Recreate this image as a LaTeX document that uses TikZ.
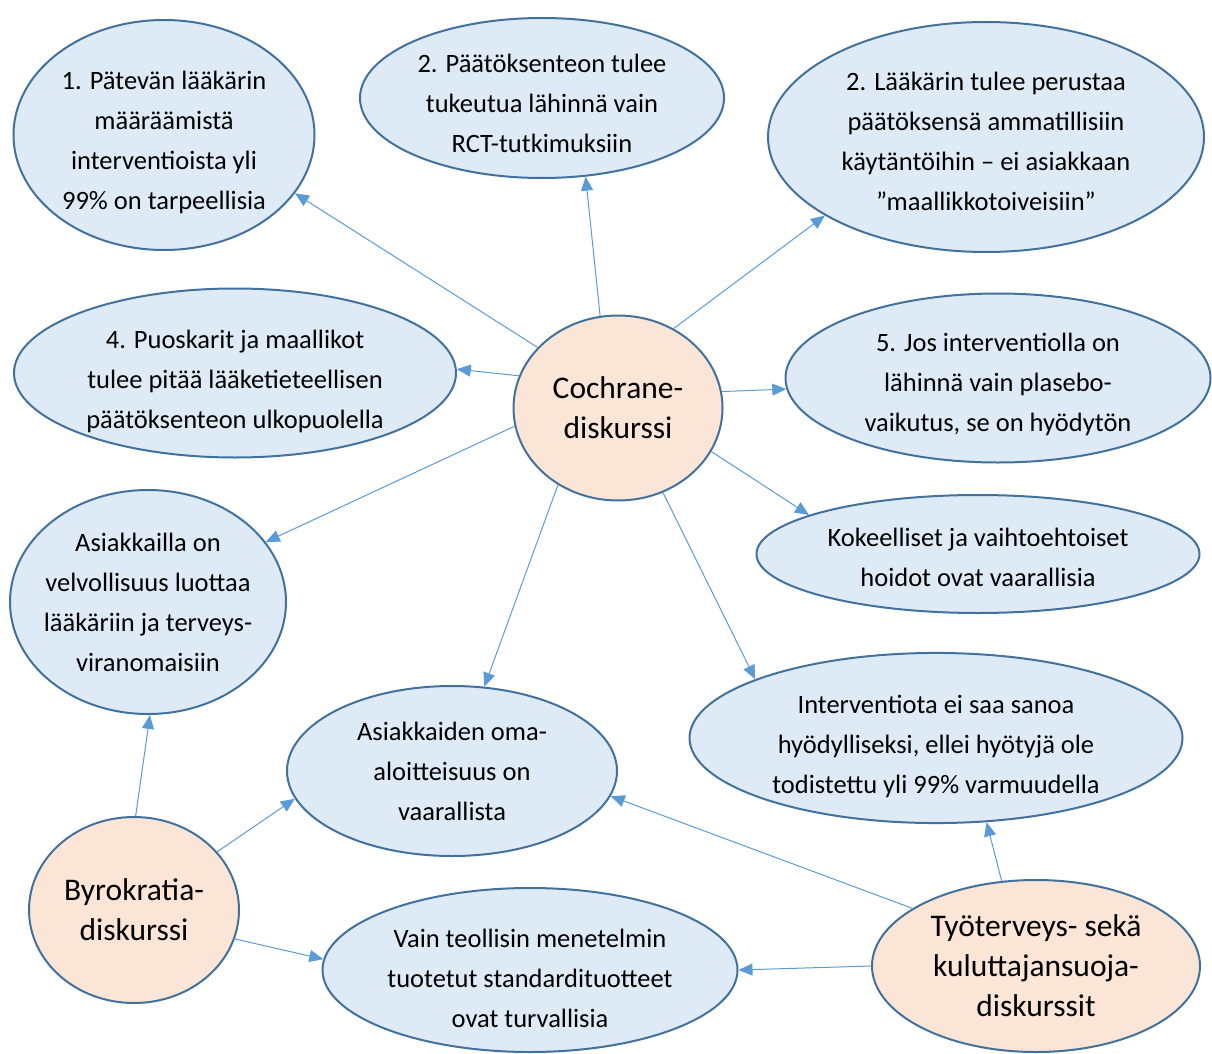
\documentclass[tikz,border=0pt]{standalone}
\usepackage{fontspec}
\setmainfont{Carlito}
\usetikzlibrary{shapes.geometric, arrows.meta}
\definecolor{fillblue}{HTML}{DEEBF7}
\definecolor{fillorange}{HTML}{FBE5D6}
\definecolor{rimblue}{HTML}{41719C}
\definecolor{lineblue}{HTML}{5B9BD5}
\newcommand{\lift}[1]{\rule{0pt}{#1pt}}

\begin{document}
\begin{tikzpicture}[x=1pt, y=-1pt,
  claim/.style={ellipse, draw=rimblue, line width=2pt, fill=fillblue, inner sep=0pt,
    align=center, font=\fontsize{26.5}{40}\selectfont},
  disc/.style={claim, fill=fillorange, font=\fontsize{31.5}{40}\selectfont},
  conn/.style={draw=lineblue, line width=1pt, -{Triangle[length=14pt,width=12pt]}}]
\useasboundingbox (0,0) rectangle (1212,1054);

\node[claim, minimum width=301pt, minimum height=230pt] (pat) at (164,135)
  {\lift{34}1. Pätevän lääkärin\\määräämistä\\interventioista yli\\99\% on tarpeellisia};
\node[claim, minimum width=364pt, minimum height=160pt] (rct) at (542,98)
  {\lift{29}2. Päätöksenteon tulee\\tukeutua lähinnä vain\\RCT-tutkimuksiin};
\node[claim, minimum width=436pt, minimum height=230pt] (amm) at (986,137)
  {\lift{27}2. Lääkärin tulee perustaa\\päätöksensä ammatillisiin\\käytäntöihin – ei asiakkaan\\”maallikkotoiveisiin”};
\node[claim, minimum width=442pt, minimum height=169pt] (puo) at (235,373)
  {\lift{35}4. Puoskarit ja maallikot\\tulee pitää lääketieteellisen\\päätöksenteon ulkopuolella};
\node[claim, minimum width=425pt, minimum height=169pt] (plac) at (998,378)
  {\lift{32}5. Jos interventiolla on\\lähinnä vain plasebo-\\vaikutus, se on hyödytön};
\node[claim, minimum width=443pt, minimum height=118pt] (kok) at (978,554)
  {\lift{26}Kokeelliset ja vaihtoehtoiset\\hoidot ovat vaarallisia};
\node[claim, inner xsep=-10pt, minimum width=276pt, minimum height=224pt] (luot) at (148,602)
  {Asiakkailla on\\velvollisuus luottaa\\lääkäriin ja terveys-\\viranomaisiin};
\node[claim, minimum width=330pt, minimum height=170pt] (oma) at (452,771)
  {Asiakkaiden oma-\\aloitteisuus on\\vaarallista};
\node[claim, minimum width=493pt, minimum height=170pt] (hyot) at (936,738)
  {\lift{36}Interventiota ei saa sanoa\\hyödylliseksi, ellei hyötyjä ole\\todistettu yli 99\% varmuudella};
\node[claim, minimum width=415pt, minimum height=164pt] (teol) at (530,970)
  {\lift{35}Vain teollisin menetelmin\\tuotetut standardituotteet\\ovat turvallisia};

\node[disc, minimum width=209pt, minimum height=185pt] (coch) at (618,408) {Cochrane-\\diskurssi};
\node[disc, minimum width=210pt, minimum height=186pt] (byro) at (134,910) {Byrokratia-\\diskurssi};
\node[disc, minimum width=328pt, minimum height=172pt] (tyo) at (1036,966)
  {Työterveys- sekä\\kuluttajansuoja-\\diskurssit};

\foreach \from/\to in {coch.143/pat.-24, coch.101/rct.-61, coch.55/amm.206, coch.162/puo.1,
    coch.9/plac.183, coch.-25/kok.167, coch.190/luot.27, coch.232/oma.69, coch.-62/hyot.162,
    byro.89/luot.-89, byro.35/oma.190, byro.-16/teol.177,
    tyo.155/oma.-9, tyo.112/hyot.-59, tyo.180/teol.0}
  \draw[conn] (\from) -- (\to);
\end{tikzpicture}
\end{document}
